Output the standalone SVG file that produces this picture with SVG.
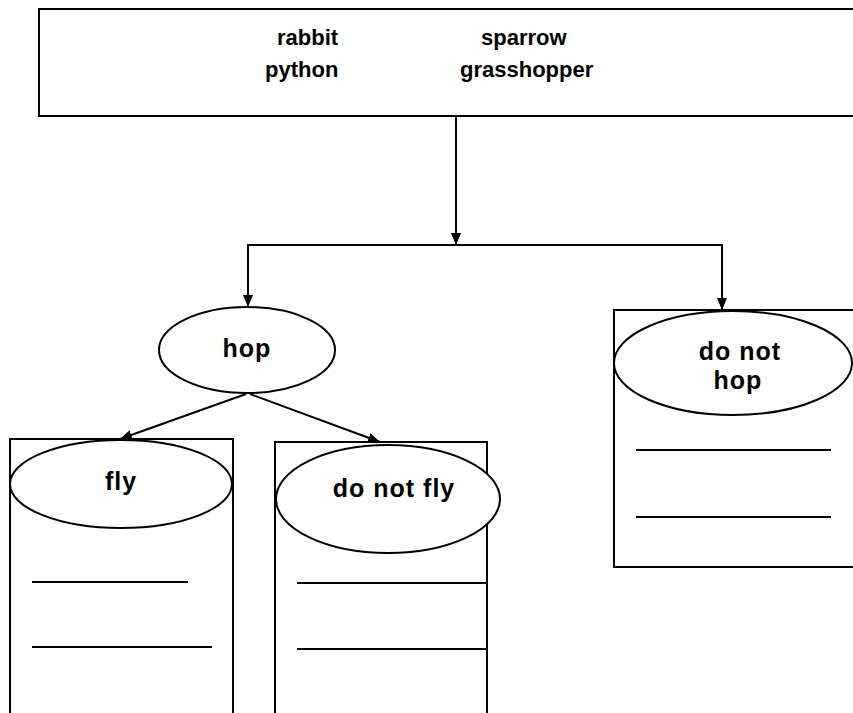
<svg xmlns="http://www.w3.org/2000/svg" width="853" height="713" viewBox="0 0 853 713">
<style>
.box{fill:#fff;stroke:#000;stroke-width:2}
.ell{fill:#fff;stroke:#000;stroke-width:2}
.ln{stroke:#000;stroke-width:2;fill:none}
.rule{stroke:#000;stroke-width:2}
text{font-family:"Liberation Sans",Arial,sans-serif;font-weight:bold;fill:#000}
.t{font-size:22px}
.n{font-size:25px;text-anchor:middle;letter-spacing:1px}
</style>
<defs>
<marker id="ah" viewBox="0 0 12 10" refX="12" refY="5" markerWidth="12" markerHeight="10" markerUnits="userSpaceOnUse" orient="auto">
<path d="M0,0 L12,5 L0,10 z" fill="#000"/>
</marker>
</defs>
<rect width="853" height="713" fill="#fff"/>
<g id="top">
<rect class="box" x="39" y="9" width="840" height="107"/>
<text class="t" x="277" y="45">rabbit</text>
<text class="t" x="481" y="45">sparrow</text>
<text class="t" x="265" y="77">python</text>
<text class="t" x="460" y="77">grasshopper</text>
</g>
<g id="connectors">
<line class="ln" x1="456" y1="117" x2="456" y2="245" marker-end="url(#ah)"/>
<polyline class="ln" points="248,300 248,245 722,245 722,300"/>
<line class="ln" x1="248" y1="290" x2="248" y2="307" marker-end="url(#ah)"/>
<line class="ln" x1="722" y1="290" x2="722" y2="310" marker-end="url(#ah)"/>
<line class="ln" x1="246" y1="394" x2="120" y2="439" marker-end="url(#ah)"/>
<line class="ln" x1="250" y1="394" x2="380" y2="442" marker-end="url(#ah)"/>
</g>
<g id="hop">
<ellipse class="ell" cx="247" cy="350" rx="88" ry="43"/>
<text class="n" x="247" y="357">hop</text>
</g>
<g id="fly">
<rect class="box" x="10" y="439" width="223" height="300"/>
<ellipse class="ell" cx="121" cy="484" rx="111" ry="44"/>
<text class="n" x="121" y="490">fly</text>
<line class="rule" x1="32" y1="582" x2="188" y2="582"/>
<line class="rule" x1="32" y1="647" x2="212" y2="647"/>
</g>
<g id="donotfly">
<rect class="box" x="275" y="442" width="212" height="300"/>
<ellipse class="ell" cx="388" cy="499" rx="112" ry="54"/>
<text class="n" x="394" y="497">do not fly</text>
<line class="rule" x1="297" y1="583" x2="487" y2="583"/>
<line class="rule" x1="297" y1="649" x2="487" y2="649"/>
</g>
<g id="donothop">
<rect class="box" x="614" y="310" width="300" height="257"/>
<ellipse class="ell" cx="733" cy="363" rx="119" ry="52"/>
<text class="n" x="740" y="360">do not</text>
<text class="n" x="738" y="389">hop</text>
<line class="rule" x1="636" y1="450" x2="831" y2="450"/>
<line class="rule" x1="636" y1="517" x2="831" y2="517"/>
</g>
</svg>
